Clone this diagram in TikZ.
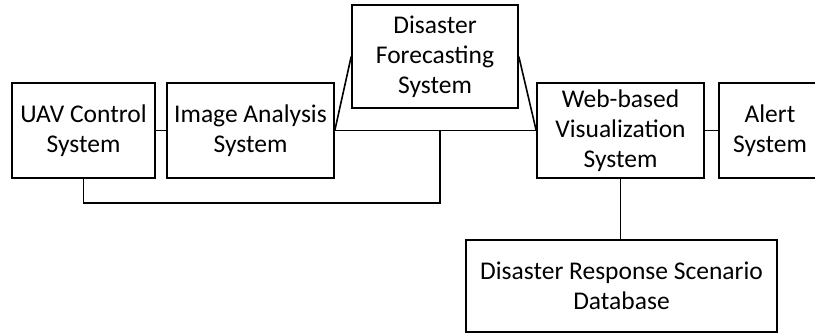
\documentclass[tikz,border=0pt]{standalone}
\usepackage{fontspec}
\setmainfont{Carlito}
\tikzset{
  block/.style={draw, line width=1.6pt, align=center, inner sep=0pt,
    font=\fontsize{25.5}{30}\selectfont},
  link/.style={line width=1.6pt}
}
\begin{document}
\begin{tikzpicture}[x=1pt,y=-1pt]
      \useasboundingbox (0,0) rectangle (815,335);
      \clip (0,0) rectangle (815,335);
      \node[block, minimum width=143pt, minimum height=95pt] (uav) at (83.5,130.5) {UAV Control\\System};
      \node[block, minimum width=167pt, minimum height=95pt] (img) at (250.5,130.5) {Image Analysis\\System};
      \node[block, minimum width=166pt, minimum height=103pt] (fcst) at (435,56.5) {Disaster\\Forecasting\\System};
      \node[block, minimum width=167pt, minimum height=95pt] (web) at (620.5,130.5) {Web-based\\Visualization\\System};
      \node[block, minimum width=102pt, minimum height=95pt] (alert) at (770,130.5) {Alert\\System};
      \node[block, minimum width=311pt, minimum height=92pt] (db) at (621.5,286) {Disaster Response Scenario\\Database};
      \coordinate (bend) at (440,203);
      \begin{scope}[link]
        \draw (uav) to (img);
        \draw (img.east) to (web.west);
        \draw (img.east) to (fcst.west);
        \draw (fcst.east) to (web.west);
        \draw (uav.south) |- (bend) to (bend |- img.east);
        \draw (web) to (alert);
        \draw (web.south) to (web.south |- db.north);
      \end{scope}
    \end{tikzpicture}
\end{document}
